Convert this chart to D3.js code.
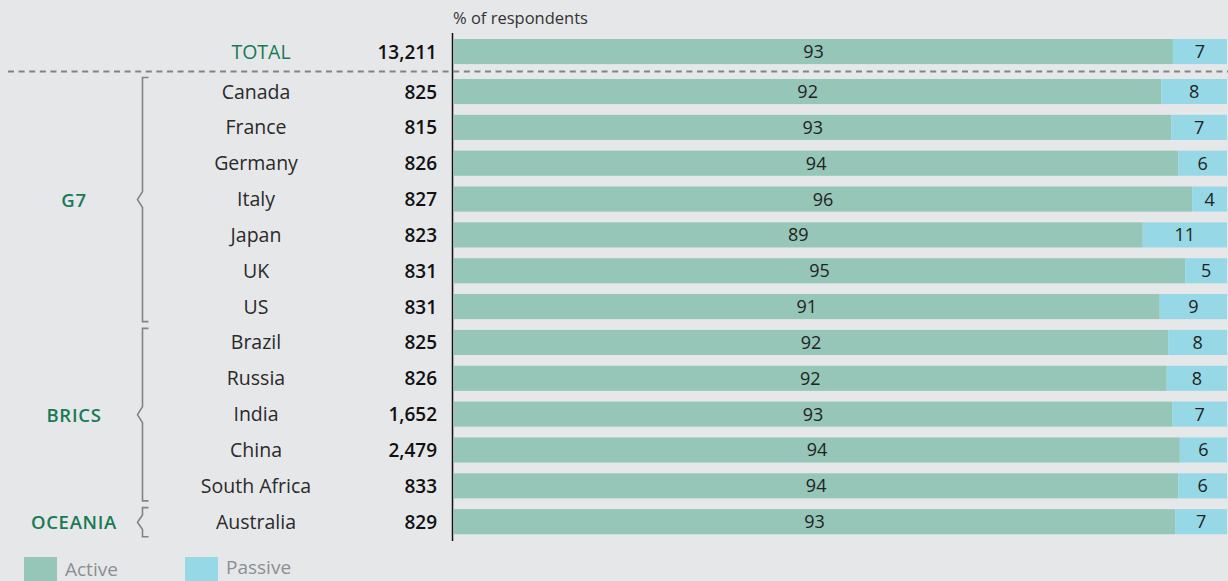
<!DOCTYPE html>
<html>
<head>
<meta charset="utf-8">
<script src="https://cdn.jsdelivr.net/npm/d3@7"></script>
<style>
  html, body { margin: 0; padding: 0; background: #e6e7e9; }
  svg { display: block; }
  text { font-family: "Open Sans", "Noto Sans", sans-serif; }
</style>
</head>
<body>
<svg id="chart" width="1228" height="581"></svg>
<script>
// ---- data ----
const countries = ["Canada","France","Germany","Italy","Japan","UK","US","Brazil","Russia","India","China","South Africa","Australia"];
const counts = ["825","815","826","827","823","831","831","825","826","1,652","2,479","833","829"];
const activeShare = [91.5, 92.8, 93.7, 95.5, 89.1, 94.6, 91.3, 92.4, 92.2, 92.9, 93.9, 93.7, 93.3];
const activeLabels = ["92","93","94","96","89","95","91","92","92","93","94","94","93"];
const passiveLabels = ["8","7","6","4","11","5","9","8","8","7","6","6","7"];
const totalRow = { name: "TOTAL", count: "13,211", active: 93.0, activeLabel: "93", passiveLabel: "7" };
const groups = [
  { name: "G7", first: "Canada", last: "US" },
  { name: "BRICS", first: "Brazil", last: "South Africa" },
  { name: "OCEANIA", first: "Australia", last: "Australia" }
];
const seriesNames = ["Active", "Passive"];
const seriesColors = ["#96c6b8", "#96d8e6"];

// ---- layout ----
const svg = d3.select("#chart");
const x = d3.scaleLinear().domain([0, 100]).range([454, 1227]);
const y = d3.scaleBand().domain(countries).range([73.6, 539.6]).paddingInner(0.3).paddingOuter(0.15);
const totalY = 39, barH = y.bandwidth();
const FS = 19.5;

const rows = countries.map((c, i) => ({
  name: c, count: counts[i], active: activeShare[i],
  activeLabel: activeLabels[i], passiveLabel: passiveLabels[i],
  y: y(c)
}));
const allRows = [Object.assign({}, totalRow, { y: totalY, total: true })].concat(rows);

// header
svg.append("text").attr("x", 453).attr("y", 24)
  .attr("font-size", 16.5).attr("fill", "#333").text("% of respondents");

// bars
const g = svg.append("g");
const rg = g.selectAll("g.row").data(allRows).join("g").attr("class", "row");
rg.append("rect").attr("x", x(0)).attr("y", d => d.y)
  .attr("width", d => x(d.active) - x(0)).attr("height", barH).attr("fill", seriesColors[0]);
rg.append("rect").attr("x", d => x(d.active)).attr("y", d => d.y)
  .attr("width", d => x(100) - x(d.active)).attr("height", barH).attr("fill", seriesColors[1]);
rg.append("text").attr("x", d => (x(0) + x(d.active)) / 2).attr("y", d => d.y + barH / 2 + 6.5)
  .attr("text-anchor", "middle").attr("font-size", 18).attr("fill", "#222").text(d => d.activeLabel);
rg.append("text").attr("x", d => (x(d.active) + x(100)) / 2).attr("y", d => d.y + barH / 2 + 6.5)
  .attr("text-anchor", "middle").attr("font-size", 18).attr("fill", "#222").text(d => d.passiveLabel);

// row names and counts
rg.append("text").attr("x", d => d.total ? 261 : 256).attr("y", d => d.y + barH / 2 + 7)
  .attr("text-anchor", "middle").attr("font-size", FS)
  .attr("fill", d => d.total ? "#197a56" : "#2a2a2a").text(d => d.name);
rg.append("text").attr("x", 437).attr("y", d => d.y + barH / 2 + 7)
  .attr("text-anchor", "end").attr("font-size", 19).attr("font-weight", 600)
  .attr("fill", "#111").text(d => d.count);

// axis line
svg.append("line").attr("x1", 452.5).attr("x2", 452.5).attr("y1", 33).attr("y2", 541)
  .attr("stroke", "#111").attr("stroke-width", 1.5);

// dashed separator
svg.append("line").attr("x1", 8).attr("x2", 1228).attr("y1", 71.5).attr("y2", 71.5)
  .attr("stroke", "#7f8489").attr("stroke-width", 2).attr("stroke-dasharray", "6,4.6");

// group brackets
groups.forEach(gr => {
  const top = y(gr.first) - 1.5, bot = y(gr.last) + barH + 2.5;
  const mid = (top + bot) / 2;
  const bx = 142.5, tick = 6, notch = 5, nh = Math.min(8, (bot - top) / 4);
  const path = d3.path();
  path.moveTo(bx + tick, top);
  path.lineTo(bx, top);
  path.lineTo(bx, mid - nh);
  path.lineTo(bx - notch, mid);
  path.lineTo(bx, mid + nh);
  path.lineTo(bx, bot);
  path.lineTo(bx + tick, bot);
  svg.append("path").attr("d", path.toString()).attr("fill", "none")
    .attr("stroke", "#7f8489").attr("stroke-width", 1.6);
  svg.append("text").attr("x", 74).attr("y", mid + 7).attr("text-anchor", "middle")
    .attr("font-size", 18.5).attr("font-weight", 600).attr("fill", "#197a56")
    .attr("letter-spacing", 0.7).text(gr.name);
});

// legend
const legendX = [24, 185];
seriesNames.forEach((s, i) => {
  svg.append("rect").attr("x", legendX[i]).attr("y", 557).attr("width", 33).attr("height", 24)
    .attr("fill", seriesColors[i]);
  svg.append("text").attr("x", legendX[i] + 41).attr("y", i === 0 ? 576 : 574)
    .attr("font-size", 19).attr("fill", "#8a8f94").text(s);
});
</script>
</body>
</html>
